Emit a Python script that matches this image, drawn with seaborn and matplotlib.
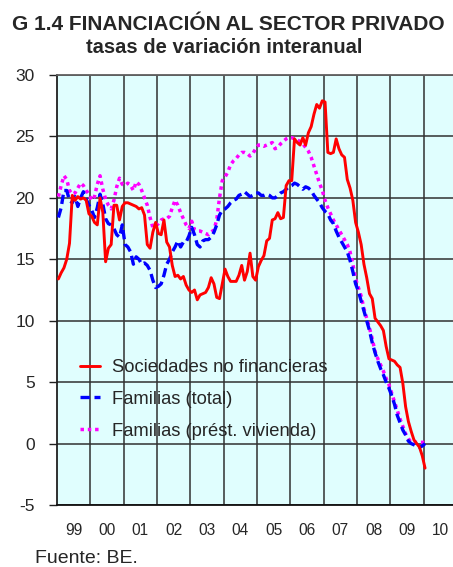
import numpy as np
import pandas as pd
import matplotlib
matplotlib.use("Agg")
import matplotlib.pyplot as plt
import seaborn as sns

sns.set_style("white")
plt.rcParams['font.family'] = ['Liberation Sans', 'DejaVu Sans']

# ---------------- data (monthly, Jan 1999 - Jan 2010) ----------------
start_year = 1999
sociedades = [
    13.4, 13.9, 14.3, 15.0, 16.3, 20.2, 19.8, 20.1, 19.9, 20.0, 19.8, 18.7,
    18.5, 18.0, 17.8, 20.0, 18.8, 14.8, 15.9, 16.2, 19.4, 19.4, 18.2, 19.3,
    19.6, 19.6, 19.5, 19.4, 19.3, 19.1, 19.2, 18.6, 16.2, 15.9, 17.2, 18.0,
    17.1, 17.0, 18.2, 16.4, 16.0, 14.5, 13.6, 13.7, 13.4, 13.6, 12.9, 12.5,
    12.3, 12.5, 11.7, 12.1, 12.2, 12.3, 12.7, 13.5, 13.0, 11.9, 11.8, 13.0,
    14.2, 13.6, 13.2, 13.2, 13.2, 13.7, 14.5, 13.3, 14.0, 15.5, 13.6, 13.3,
    14.4, 14.9, 15.3, 16.5, 16.7, 18.2, 18.3, 18.8, 18.3, 18.4, 21.0, 21.4,
    21.4, 24.8, 24.5, 24.3, 24.9, 24.3, 25.3, 25.8, 26.8, 27.6, 27.3, 27.9,
    27.8, 23.7, 23.6, 23.7, 24.8, 24.0, 23.5, 23.3, 21.5, 20.8, 19.8, 18.0,
    17.2, 16.2, 14.6, 13.5, 12.2, 11.8, 10.2, 9.9, 9.6, 9.2, 7.9, 6.9,
    6.8, 6.7, 6.4, 6.2, 4.9, 3.0, 1.8, 1.0, 0.3, 0.0, -0.3, -1.0,
    -2.0,
]
familias_total = [
    18.4, 19.2, 20.6, 20.6, 19.8, 19.6, 20.1, 19.3, 20.0, 20.5, 19.9, 19.4,
    19.0, 18.4, 19.2, 20.3, 19.5, 18.3, 17.9, 17.8, 17.5, 17.0, 16.8, 17.8,
    16.2, 16.0, 15.6, 14.6, 15.2, 15.0, 14.6, 14.7, 14.5, 14.1, 13.3, 12.7,
    12.8, 13.0, 13.7, 14.6, 15.0, 15.6, 16.0, 16.5, 16.0, 16.4, 16.4, 16.9,
    17.6, 17.0, 16.2, 16.0, 16.5, 16.6, 16.6, 16.8, 17.2, 17.8, 18.6, 19.0,
    19.1, 19.3, 19.6, 19.8, 19.9, 20.2, 20.3, 20.5, 20.3, 20.1, 20.2, 20.4,
    20.4, 20.2, 20.2, 20.3, 20.2, 20.0, 20.0, 20.2, 20.4, 20.5, 20.7, 20.9,
    21.0, 21.2, 21.1, 20.9, 20.7, 20.9, 20.8, 20.6, 20.2, 19.9, 19.6, 19.2,
    18.9, 18.7, 18.2, 17.9, 17.3, 16.8, 16.4, 16.0, 15.6, 14.9, 14.0, 13.0,
    12.4, 11.6, 10.8, 10.0, 9.2, 8.2, 7.4, 6.7, 6.1, 5.6, 5.0, 4.5,
    3.9, 3.2, 2.3, 1.7, 1.1, 0.7, 0.2, 0.0, -0.1, -0.2, -0.3, -0.2,
    0.0,
]
familias_vivienda = [
    20.1, 21.0, 21.8, 21.5, 20.6, 20.3, 20.4, 20.8, 21.2, 21.0, 20.6, 20.3,
    19.8, 20.1, 21.1, 21.8, 20.7, 19.9, 19.4, 19.1, 19.8, 20.9, 21.6, 21.1,
    21.0, 21.2, 21.0, 20.6, 21.3, 21.1, 20.6, 20.0, 19.4, 18.4, 17.6, 17.7,
    17.9, 18.2, 18.3, 18.3, 18.5, 19.2, 19.8, 19.4, 18.8, 18.3, 17.8, 17.5,
    18.1, 17.4, 17.3, 17.3, 17.2, 17.1, 17.0, 17.2, 17.4, 18.2, 20.0, 21.4,
    21.7, 22.1, 22.7, 23.0, 23.2, 23.5, 23.7, 23.7, 23.6, 23.4, 23.6, 24.0,
    24.3, 24.3, 24.2, 24.3, 24.4, 24.5, 24.0, 24.1, 24.4, 24.6, 24.8, 24.9,
    24.9, 24.8, 24.7, 24.6, 24.4, 24.1, 23.8, 23.3, 22.6, 21.9, 21.2, 20.6,
    19.8, 19.2, 18.7, 18.2, 17.8, 17.4, 17.0, 16.6, 16.2, 15.6, 14.6, 13.4,
    12.7, 12.0, 11.0, 10.2, 9.4, 8.5, 7.5, 6.9, 6.4, 5.9, 5.3, 4.8,
    4.1, 3.4, 2.7, 2.0, 1.4, 0.8, 0.4, 0.1, 0.1, 0.1, 0.1, 0.1,
    0.1,
]
year_labels = ['99', '00', '01', '02', '03', '04', '05', '06', '07', '08', '09', '10']
series_labels = ['Sociedades no financieras', 'Familias (total)', 'Familias (prést. vivienda)']
title_1 = 'G 1.4 FINANCIACIÓN AL SECTOR PRIVADO'
title_2 = 'tasas de variación interanual'
source = 'Fuente: BE.'

n = len(sociedades)
t = start_year + (np.arange(n) + 0.5) / 12.0
df = pd.DataFrame({'t': t, 'soc': sociedades, 'fam': familias_total, 'viv': familias_vivienda})

W, H = 453, 567
fig = plt.figure(figsize=(W / 100, H / 100), dpi=100)
fig.patch.set_facecolor('white')
ax = fig.add_axes([57 / W, 62 / H, 400 / W, 430 / H])
ax.set_facecolor('#e0fefe')

sns.lineplot(data=df, x='t', y='viv', ax=ax, color='#ff00ff', linewidth=2.5,
             linestyle=(0, (1.0, 1.1)), label=series_labels[2], sort=False, zorder=3)
sns.lineplot(data=df, x='t', y='fam', ax=ax, color='#0000ff', linewidth=2.4,
             linestyle=(0, (2.8, 1.4)), label=series_labels[1], sort=False, zorder=4)
sns.lineplot(data=df, x='t', y='soc', ax=ax, color='#ff0000', linewidth=2.1,
             label=series_labels[0], sort=False, zorder=5)

n_years = len(year_labels)
ax.set_xlim(start_year, start_year + n_years)
ax.set_ylim(-5, 30)
ax.set_xlabel('')
ax.set_ylabel('')

# vertical grid at year boundaries, labels at mid-year
ax.set_xticks([start_year + i for i in range(1, n_years)])
ax.set_xticklabels([])
ax.set_xticks([start_year + i + 0.5 for i in range(n_years)], minor=True)
ax.set_xticklabels(year_labels, minor=True, fontsize=11.2)
ax.tick_params(axis='x', which='both', length=0)
ax.tick_params(axis='x', which='minor', pad=13)

ax.set_yticks(np.arange(-5, 31, 5))
ax.set_yticklabels([str(v) for v in np.arange(-5, 31, 5)], fontsize=12.5)
ax.tick_params(axis='y', length=6, width=1.0, color='#202020', pad=10, left=True, direction='out')

ax.grid(True, which='major', axis='both', color='#303030', linewidth=1.1)
ax.set_axisbelow(True)

for side, col in [('left', '#202020'), ('bottom', '#101010'), ('top', '#606060'), ('right', '#606060')]:
    ax.spines[side].set_color(col)
    ax.spines[side].set_linewidth(1.3)

handles, labels = ax.get_legend_handles_labels()
order = [labels.index(l) for l in series_labels]
ax.legend([handles[i] for i in order], [labels[i] for i in order],
          loc='upper left', bbox_to_anchor=(0.0575, 0.339), frameon=False,
          borderaxespad=0, borderpad=0, handlelength=1.1, handletextpad=0.65,
          labelspacing=0.8, fontsize=13.2)

fig.text(228 / W, 1 - 30 / H, title_1, ha='center', va='baseline', fontsize=15, fontweight='bold')
fig.text(224 / W, 1 - 53 / H, title_2, ha='center', va='baseline', fontsize=14.5, fontweight='bold')
fig.text(35 / W, 1 - 563 / H, source, ha='left', va='baseline', fontsize=14)

fig.savefig('out.png', dpi=100)
